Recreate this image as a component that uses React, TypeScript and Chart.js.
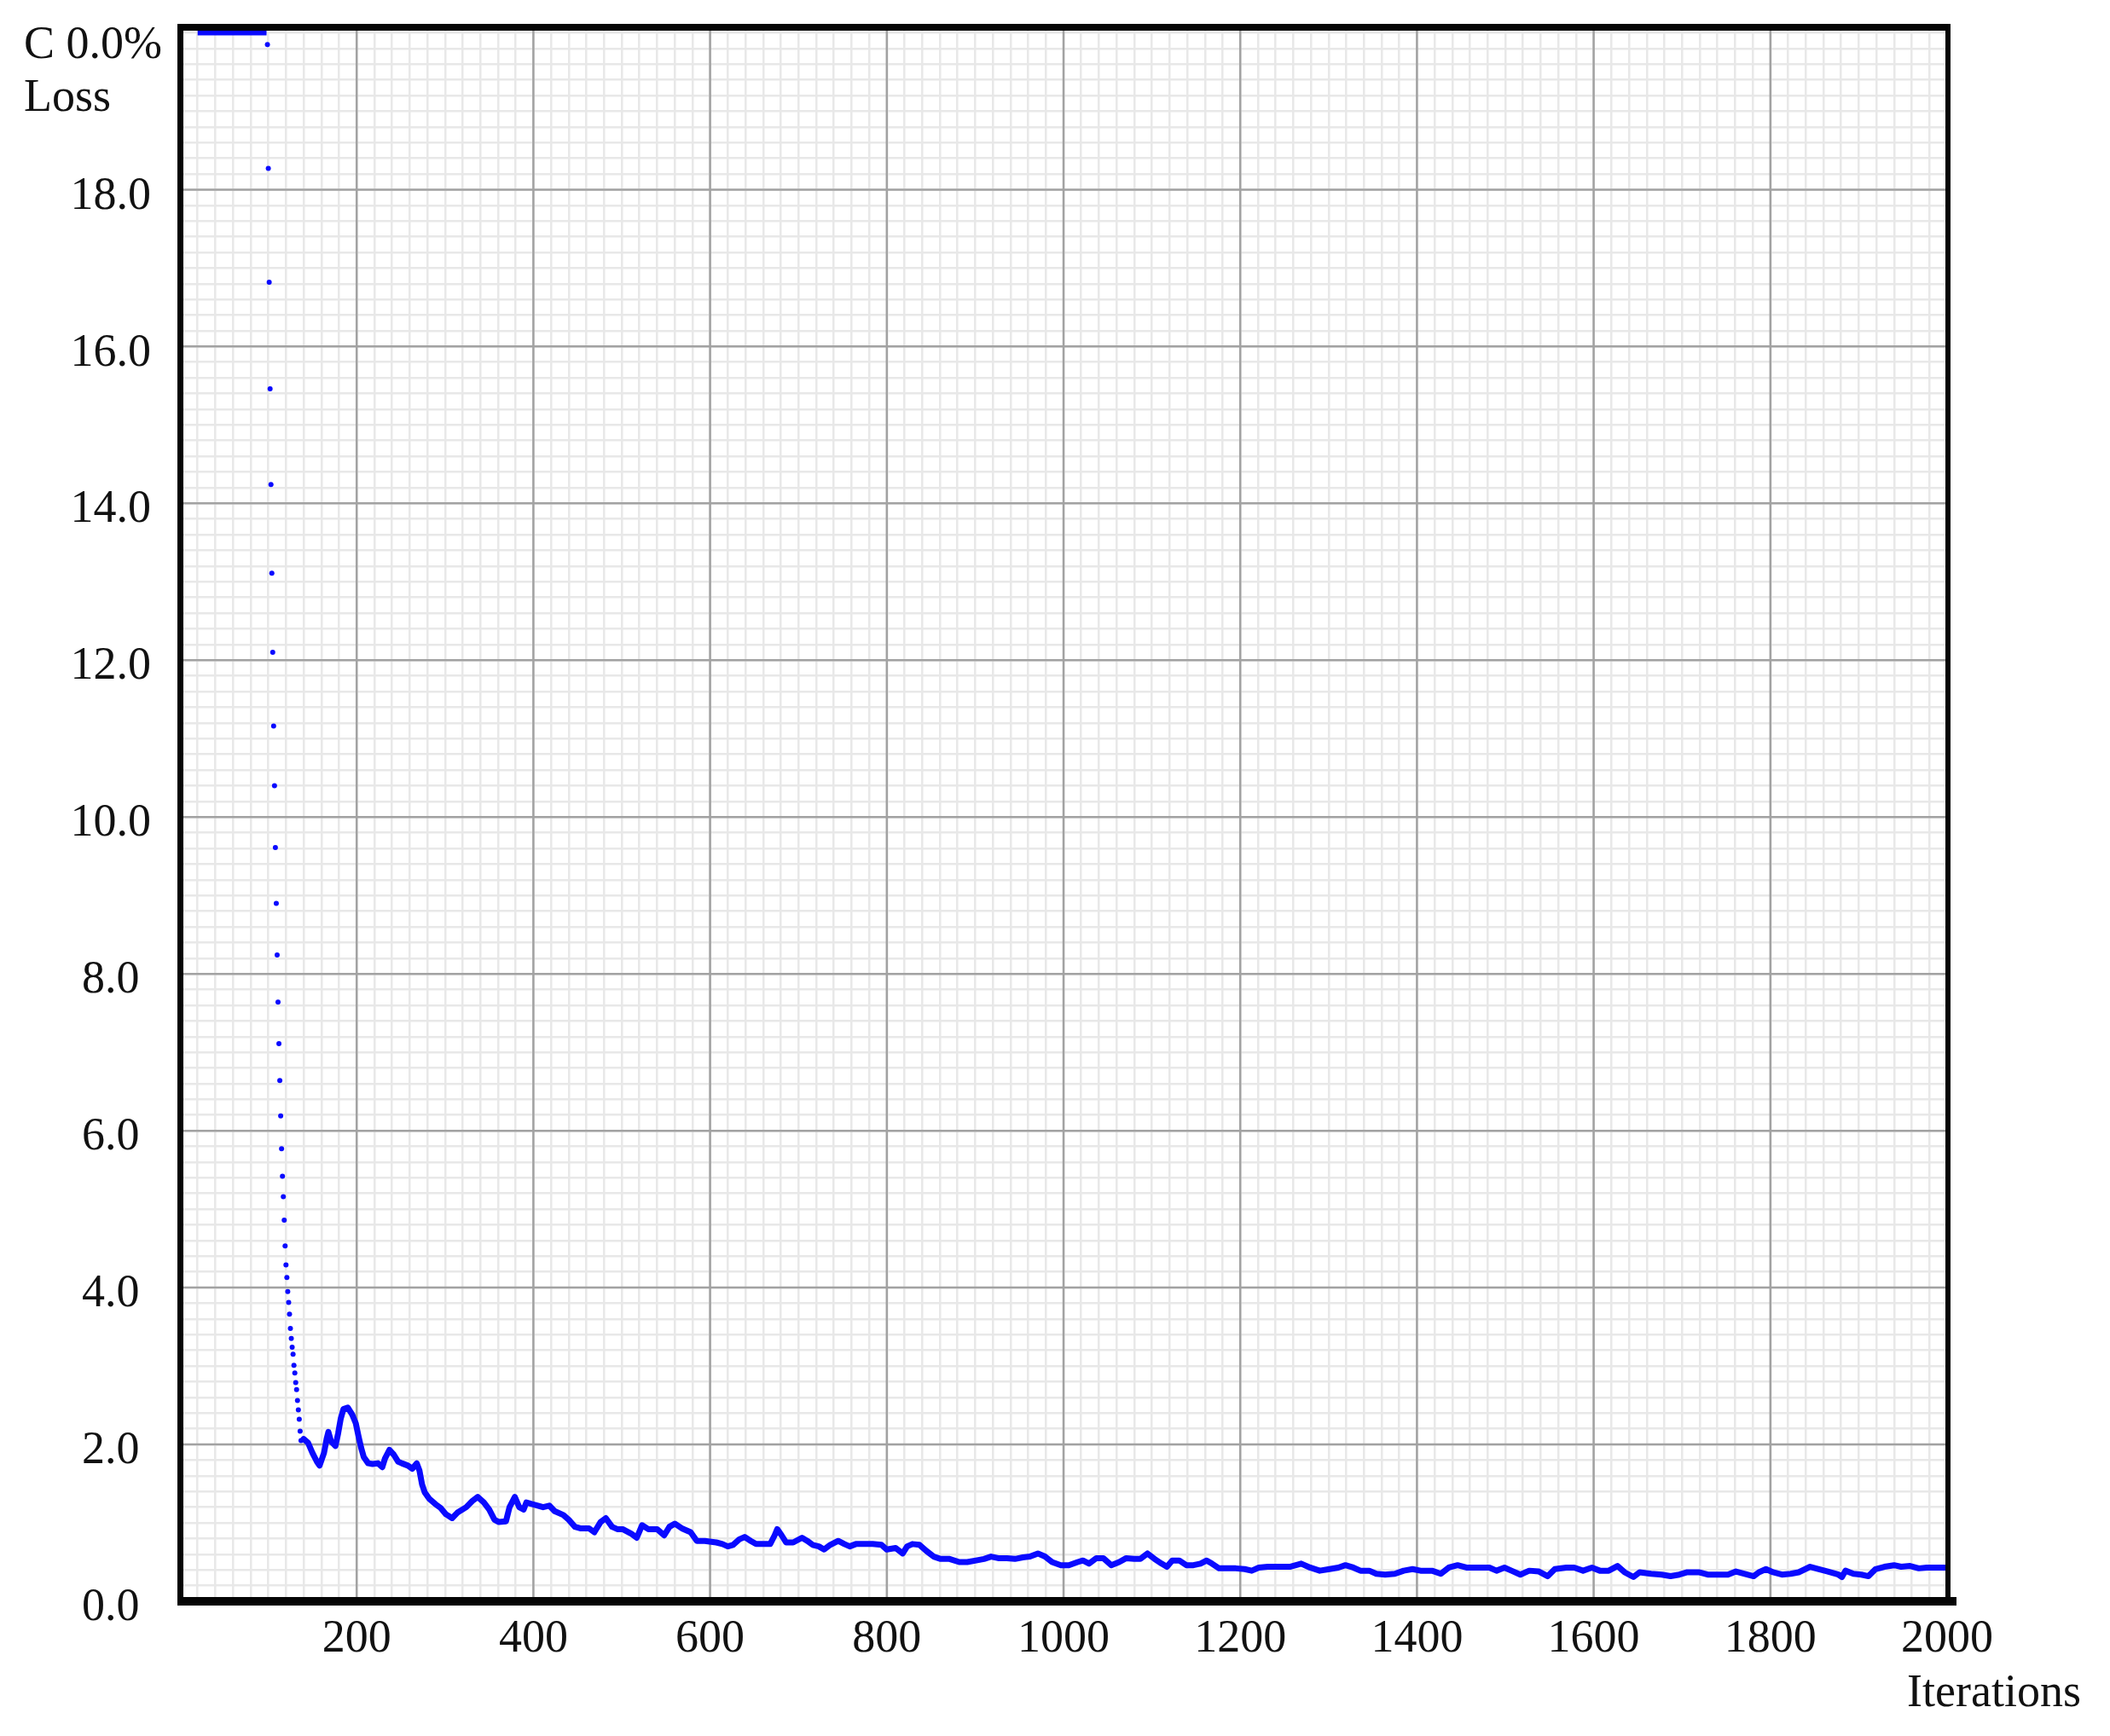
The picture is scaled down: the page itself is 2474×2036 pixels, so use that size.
import React, { useEffect, useRef } from 'react';
import { Chart, registerables } from 'chart.js';

Chart.register(...registerables);

// ---- axes ----
const X_MIN = 0;
const X_MAX = 2000;
const Y_MIN = 0;
const Y_MAX = 20.07;
const xMajorTicks = [200, 400, 600, 800, 1000, 1200, 1400, 1600, 1800, 2000];
const yMajorTicks = [0, 2, 4, 6, 8, 10, 12, 14, 16, 18];
const X_MINOR_STEP = 20;
const Y_MINOR_STEP = 0.2;

// ---- labels ----
const topLabelLine1 = 'C 0.0%';
const topLabelLine2 = 'Loss';
const xAxisTitle = 'Iterations';

// ---- data: capped start (loss off the scale, drawn at the top) ----
const headIters = [20, 98];
const headLoss = [20, 20];

// ---- data: steep descent, one dot per iteration ----
const dropStartIter = 99;
const dropLoss = [
  19.85, 18.27, 16.82, 15.46, 14.24, 13.11, 12.1, 11.16, 10.4, 9.61,
  8.9, 8.24, 7.64, 7.11, 6.64, 6.19, 5.77, 5.42, 5.16, 4.86,
  4.53, 4.29, 4.13, 3.95, 3.81, 3.66, 3.48, 3.35, 3.24, 3.15,
  3.01, 2.91, 2.79, 2.7, 2.56, 2.44, 2.32, 2.17, 2.05,
];

// ---- data: rest of the training curve ----
const tailIters = [
  140, 145, 150, 155, 158, 163, 166, 168, 171, 176, 179, 182, 185, 190, 195, 199, 202, 205, 208, 213,
  218, 224, 229, 232, 237, 242, 247, 251, 258, 263, 268, 271, 274, 277, 282, 289, 295, 301, 308, 314,
  324, 331, 337, 344, 350, 356, 361, 369, 373, 379, 384, 389, 392, 398, 405, 411, 418, 424, 434, 440,
  447, 453, 463, 469, 476, 482, 489, 495, 501, 511, 517, 523, 530, 540, 548, 554, 560, 568, 578, 585,
  594, 607, 614, 620, 626, 633, 639, 646, 652, 662, 668, 673, 676, 681, 686, 694, 704, 710, 716, 723,
  729, 736, 745, 752, 758, 765, 774, 784, 794, 800, 810, 818, 823, 829, 837, 845, 853, 861, 871, 882,
  891, 901, 910, 918, 926, 936, 945, 954, 962, 971, 979, 987, 997, 1006, 1016, 1022, 1029, 1037, 1045, 1054,
  1063, 1071, 1080, 1087, 1095, 1103, 1111, 1117, 1123, 1131, 1139, 1147, 1155, 1162, 1168, 1176, 1186, 1195, 1205, 1213,
  1221, 1231, 1240, 1256, 1269, 1279, 1290, 1301, 1311, 1319, 1328, 1336, 1346, 1354, 1364, 1375, 1385, 1395, 1404, 1417,
  1427, 1436, 1446, 1456, 1469, 1482, 1490, 1499, 1507, 1517, 1527, 1538, 1548, 1556, 1569, 1578, 1588, 1598, 1607, 1617,
  1627, 1635, 1645, 1652, 1665, 1677, 1687, 1697, 1706, 1719, 1729, 1742, 1752, 1761, 1771, 1781, 1787, 1795, 1803, 1813,
  1823, 1832, 1845, 1855, 1865, 1877, 1881, 1885, 1894, 1903, 1911, 1919, 1929, 1940, 1948, 1958, 1968, 1977, 1987, 2000,
];
const tailLoss = [
  2.07, 2.02, 1.89, 1.78, 1.73, 1.89, 2.07, 2.16, 2.04, 1.98, 2.14, 2.33, 2.45, 2.47, 2.38, 2.27, 2.11, 1.96, 1.84, 1.76,
  1.75, 1.76, 1.71, 1.82, 1.93, 1.87, 1.78, 1.76, 1.73, 1.69, 1.76, 1.67, 1.49, 1.39, 1.31, 1.24, 1.19, 1.11, 1.06, 1.13,
  1.2, 1.28, 1.33, 1.26, 1.17, 1.04, 1.01, 1.02, 1.2, 1.33, 1.2, 1.17, 1.26, 1.24, 1.22, 1.2, 1.22, 1.15, 1.1, 1.04,
  0.95, 0.93, 0.93, 0.88, 1.01, 1.06, 0.95, 0.92, 0.92, 0.86, 0.81, 0.97, 0.92, 0.92, 0.84, 0.95, 0.99, 0.93, 0.88, 0.77,
  0.77, 0.75, 0.73, 0.7, 0.72, 0.79, 0.82, 0.77, 0.73, 0.73, 0.73, 0.84, 0.92, 0.84, 0.75, 0.75, 0.81, 0.77, 0.72, 0.7,
  0.66, 0.72, 0.77, 0.73, 0.7, 0.73, 0.73, 0.73, 0.72, 0.66, 0.68, 0.61, 0.7, 0.73, 0.72, 0.64, 0.57, 0.54, 0.54, 0.5,
  0.5, 0.52, 0.54, 0.57, 0.55, 0.55, 0.54, 0.56, 0.57, 0.61, 0.57, 0.5, 0.46, 0.46, 0.5, 0.52, 0.48, 0.55, 0.55, 0.46,
  0.5, 0.55, 0.54, 0.54, 0.61, 0.54, 0.48, 0.44, 0.52, 0.52, 0.46, 0.46, 0.48, 0.52, 0.48, 0.42, 0.42, 0.42, 0.41, 0.39,
  0.43, 0.44, 0.44, 0.44, 0.48, 0.43, 0.39, 0.41, 0.43, 0.46, 0.43, 0.39, 0.39, 0.35, 0.34, 0.35, 0.39, 0.41, 0.39, 0.39,
  0.35, 0.43, 0.46, 0.43, 0.43, 0.43, 0.39, 0.43, 0.39, 0.34, 0.39, 0.38, 0.32, 0.41, 0.43, 0.43, 0.39, 0.43, 0.39, 0.39,
  0.45, 0.37, 0.31, 0.37, 0.35, 0.34, 0.32, 0.34, 0.37, 0.37, 0.34, 0.34, 0.34, 0.38, 0.35, 0.32, 0.37, 0.41, 0.37, 0.34,
  0.35, 0.37, 0.44, 0.41, 0.38, 0.34, 0.31, 0.39, 0.35, 0.34, 0.32, 0.41, 0.44, 0.46, 0.44, 0.45, 0.42, 0.43, 0.43, 0.43,
];

const W = 2474;
const H = 2036;
const FONT = "'Liberation Serif', 'Times New Roman', serif";
const FONT_SIZE = 54;
const LINE_BLUE = '#0a0aff';

const xGridValues: number[] = [];
for (let i = 0; i <= Math.round((X_MAX - X_MIN) / X_MINOR_STEP); i++) xGridValues.push(X_MIN + i * X_MINOR_STEP);
const yGridValues: number[] = [];
for (let i = 0; i <= Math.round(20 / Y_MINOR_STEP); i++) yGridValues.push(Math.round(i * Y_MINOR_STEP * 10) / 10);

const decorPlugin = {
  id: 'decor',
  beforeDatasetsDraw(chart: any) {
    const { ctx, chartArea: a, scales } = chart;
    const x = scales.x;
    const y = scales.y;
    ctx.save();
    ctx.strokeStyle = '#a2a2a2';
    ctx.lineWidth = 2.5;
    ctx.beginPath();
    for (const v of xMajorTicks) {
      const px = x.getPixelForValue(v);
      ctx.moveTo(px, a.top);
      ctx.lineTo(px, a.bottom);
    }
    for (const v of yMajorTicks) {
      const py = y.getPixelForValue(v);
      ctx.moveTo(a.left, py);
      ctx.lineTo(a.right, py);
    }
    ctx.stroke();
    ctx.restore();
  },
  afterDatasetsDraw(chart: any) {
    const { ctx, chartArea: a } = chart;
    ctx.save();
    ctx.fillStyle = '#050505';
    // left
    ctx.fillRect(a.left - 3, a.top - 4, 7, a.bottom - a.top + 8);
    // top
    ctx.fillRect(a.left - 3, a.top - 4, a.right - a.left + 6, 8);
    // right
    ctx.fillRect(a.right - 2, a.top - 4, 6, a.bottom - a.top + 8);
    // bottom
    ctx.fillRect(a.left - 3, a.bottom - 5, a.right - a.left + 14, 10);
    ctx.restore();
  },
  afterDraw(chart: any) {
    const { ctx } = chart;
    ctx.save();
    ctx.fillStyle = '#111';
    ctx.font = `${FONT_SIZE}px ${FONT}`;
    ctx.textAlign = 'left';
    ctx.textBaseline = 'alphabetic';
    ctx.fillText(topLabelLine1, 28, 68);
    ctx.fillText(topLabelLine2, 28, 130);
    ctx.fillText(xAxisTitle, 2236, 2001);
    ctx.restore();
  },
};

export default function App() {
  const ref = useRef<HTMLCanvasElement | null>(null);

  useEffect(() => {
    document.body.style.margin = '0';
    const canvas = ref.current;
    if (!canvas) return;

    const chart = new Chart(canvas, {
      type: 'scatter',
      data: {
        datasets: [
          {
            label: 'capped',
            data: headIters.map((it, i) => ({ x: it, y: headLoss[i] })),
            showLine: true,
            borderColor: LINE_BLUE,
            backgroundColor: LINE_BLUE,
            borderWidth: 6,
            pointRadius: 0,
          },
          {
            label: 'drop',
            data: dropLoss.map((v, i) => ({ x: dropStartIter + i, y: v })),
            showLine: false,
            borderColor: LINE_BLUE,
            backgroundColor: LINE_BLUE,
            pointRadius: 3,
            pointBorderWidth: 0,
          },
          {
            label: 'loss',
            data: tailIters.map((it, i) => ({ x: it, y: tailLoss[i] })),
            showLine: true,
            borderColor: LINE_BLUE,
            backgroundColor: LINE_BLUE,
            borderWidth: 7,
            borderJoinStyle: 'round',
            borderCapStyle: 'round',
            pointRadius: 0,
            tension: 0,
          },
        ],
      },
      options: {
        animation: false,
        responsive: false,
        maintainAspectRatio: false,
        events: [],
        layout: { padding: { top: 32, right: 191, bottom: 0, left: 0 } },
        plugins: {
          legend: { display: false },
          tooltip: { enabled: false },
          title: { display: false },
        },
        scales: {
          x: {
            type: 'linear',
            min: X_MIN,
            max: X_MAX,
            afterBuildTicks: (scale: any) => {
              scale.ticks = xGridValues.map((v) => ({ value: v }));
            },
            afterFit: (scale: any) => {
              scale.height = 158;
              scale.paddingLeft = 0;
              scale.paddingRight = 0;
            },
            border: { display: false },
            grid: {
              color: '#e8e8e8',
              lineWidth: 2.5,
              drawTicks: false,
            },
            ticks: {
              autoSkip: false,
              maxRotation: 0,
              minRotation: 0,
              padding: 12,
              color: '#111',
              font: { family: FONT, size: FONT_SIZE },
              callback: (v: any) => (xMajorTicks.includes(Number(v)) ? String(v) : ''),
            },
          },
          y: {
            type: 'linear',
            min: Y_MIN,
            max: Y_MAX,
            afterBuildTicks: (scale: any) => {
              scale.ticks = yGridValues.map((v) => ({ value: v }));
            },
            afterFit: (scale: any) => {
              scale.width = 211;
              scale.paddingTop = 0;
              scale.paddingBottom = 0;
            },
            border: { display: false },
            grid: {
              color: '#e8e8e8',
              lineWidth: 2.5,
              drawTicks: false,
            },
            ticks: {
              autoSkip: false,
              crossAlign: 'center',
              padding: 34,
              labelOffset: 8,
              color: '#111',
              font: { family: FONT, size: FONT_SIZE },
              callback: (v: any) => {
                const n = Math.round(Number(v) * 10) / 10;
                return yMajorTicks.includes(n) ? n.toFixed(1) : '';
              },
            },
          },
        },
      },
      plugins: [decorPlugin],
    } as any);

    return () => chart.destroy();
  }, []);

  return (
    <canvas
      ref={ref}
      width={W}
      height={H}
      style={{ display: 'block', width: W, height: H }}
    />
  );
}
